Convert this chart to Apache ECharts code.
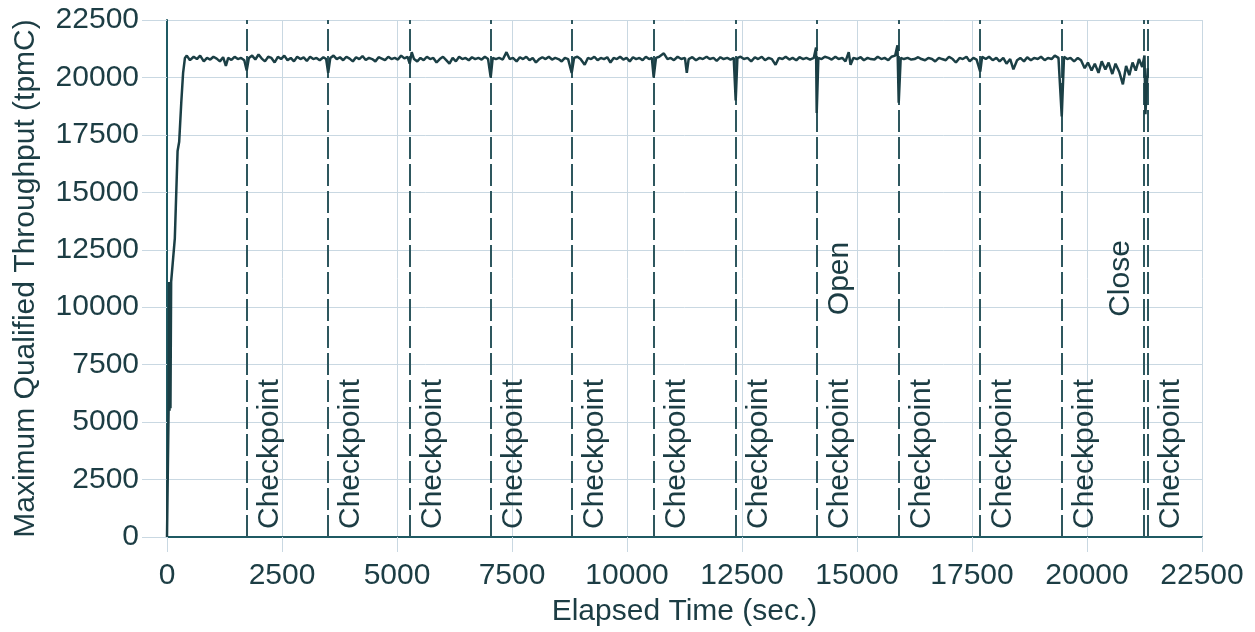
<!DOCTYPE html>
<html>
<head>
<meta charset="utf-8">
<script src="https://cdn.jsdelivr.net/npm/echarts@6/dist/echarts.min.js"></script>
<style>
html,body{margin:0;padding:0;background:#fff;}
#chart{width:1255px;height:632px;}
</style>
</head>
<body>
<div id="chart"></div>
<script>
// Elapsed time (sec) and throughput (tpmC)
const throughput = [
  [0,0],[35,5600],[45,11100],[55,5500],[65,11000],[75,5600],[90,11100],[124,11100],[170,13000],[230,16800],[265,17200],[310,18900],[350,20200],[390,20850],[430,20950],
  [500,20750],[580,20900],[650,20800],[720,20950],[800,20700],[870,20850],[940,20780],[1010,20900],[1080,20820],[1150,20700],[1220,20880],[1280,20500],[1330,20850],[1400,20760],[1470,20900],[1540,20800],[1610,20850],[1680,20750],[1733,20300],[1780,20850],
  [1850,20950],[1920,20780],[1990,21000],[2060,20820],[2130,20700],[2200,20900],[2270,20850],[2340,20650],[2410,20900],[2480,20800],[2550,20950],[2620,20750],[2690,20850],[2760,20700],[2830,20900],[2900,20800],[2970,20870],[3040,20720],[3110,20900],[3180,20800],[3250,20850],[3320,20750],[3400,20880],[3460,20800],[3504,20200],[3550,20850],
  [3620,20950],[3690,20800],[3760,20880],[3830,20750],[3900,20900],[3970,20820],[4040,20700],[4110,20880],[4180,20800],[4250,20930],[4320,20760],[4390,20850],[4460,20800],[4530,20700],[4600,20880],[4670,20820],[4740,20750],[4810,20900],[4880,20800],[4950,20850],[5020,20780],[5090,20950],[5160,20830],[5230,20900],[5276,20600],[5320,21100],[5370,20800],
  [5440,20700],[5510,20850],[5580,20750],[5650,20900],[5720,20800],[5790,20850],[5860,20650],[5930,20800],[6000,20900],[6070,20750],[6140,20600],[6210,20850],[6280,20700],[6350,20900],[6420,20800],[6490,20850],[6560,20750],[6630,20880],[6700,20800],[6770,20850],[6840,20780],[6910,20900],[6980,20800],[7037,20000],[7080,20850],
  [7150,20800],[7220,20850],[7300,20780],[7380,21100],[7450,20800],[7520,20850],[7600,20700],[7670,20880],[7740,20800],[7810,20900],[7880,20750],[7950,20850],[8020,20650],[8090,20800],[8160,20880],[8230,20800],[8300,20900],[8370,20780],[8440,20850],[8510,20800],[8580,20700],[8650,20850],[8720,20800],[8798,20200],[8850,20850],
  [8920,20900],[8990,20800],[9080,20550],[9150,20850],[9220,20800],[9290,20900],[9360,20750],[9430,20850],[9500,20800],[9570,20880],[9640,20650],[9710,20850],[9780,20800],[9850,20900],[9920,20780],[9990,20850],[10060,20700],[10130,20880],[10200,20800],[10270,20850],[10340,20750],[10410,20900],[10480,20800],[10540,20850],[10580,20000],[10630,20850],
  [10700,20900],[10800,21050],[10880,20800],[10950,20850],[11020,20750],[11100,20900],[11180,20800],[11260,20850],[11300,20200],[11340,20800],[11420,20880],[11500,20750],[11580,20850],[11650,20800],[11730,20900],[11800,20800],[11880,20850],[11950,20720],[12030,20880],[12100,20800],[12180,20850],[12250,20780],[12320,20850],[12363,19000],[12400,20850],
  [12470,20900],[12540,20800],[12620,20850],[12700,20700],[12780,20880],[12850,20800],[12930,20900],[13000,20750],[13080,20850],[13150,20800],[13230,20550],[13300,20850],[13380,20800],[13450,20900],[13530,20780],[13600,20850],[13680,20750],[13750,20880],[13830,20800],[13900,20850],[13980,20780],[14060,20850],[14110,21300],[14124,18450],[14160,20850],
  [14230,20800],[14300,20900],[14380,20850],[14450,20780],[14530,20900],[14600,20800],[14680,20850],[14750,20700],[14820,21100],[14860,20550],[14920,20850],[15000,20800],[15080,20880],[15150,20750],[15230,20850],[15300,20800],[15380,20780],[15450,20900],[15530,20800],[15600,20850],[15680,20750],[15750,20900],[15830,20950],[15880,21400],[15907,18900],[15950,20850],
  [16020,20800],[16100,20850],[16180,20780],[16250,20800],[16330,20880],[16400,20800],[16480,20750],[16550,20850],[16630,20800],[16700,20700],[16780,20850],[16850,20800],[16930,20750],[17000,20900],[17080,20800],[17150,20650],[17230,20850],[17300,20800],[17380,20900],[17450,20700],[17530,20850],[17600,20780],[17679,20250],[17720,20900],
  [17800,20800],[17870,20900],[17950,20750],[18030,20850],[18100,20700],[18180,20850],[18250,20600],[18330,20800],[18400,20350],[18480,20750],[18550,20850],[18630,20700],[18700,20880],[18780,20750],[18850,20850],[18930,20800],[19000,20900],[19080,20750],[19150,20850],[19230,20800],[19300,20950],[19380,20850],[19451,18300],[19500,20900],
  [19570,20800],[19640,20850],[19720,20700],[19800,20850],[19870,20750],[19950,20400],[20020,20650],[20100,20300],[20170,20600],[20250,20200],[20320,20700],[20400,20350],[20470,20650],[20550,20150],[20620,20600],[20700,20250],[20780,19700],[20850,20500],[20920,20100],[20990,20650],[21060,20300],[21130,20800],[21200,20450],[21250,20950],[21270,18400],[21321,20400]
];

const checkpointTimes = [1733, 3504, 5276, 7037, 8798, 10580, 12363, 14124, 15907, 17679, 19451, 21321];
const openTime = 14124;
const closeTime = 21234;

const tickValues = { min: 0, max: 22500, interval: 2500 };

const xTitle = 'Elapsed Time (sec.)';
const yTitle = 'Maximum Qualified Throughput (tpmC)';

const textColor = '#1c3d44';
const font = 'Liberation Sans, Arial, Helvetica, sans-serif';
const dashColor = '#2e575e';

const markData = checkpointTimes.map(t => ({
  xAxis: t,
  label: { show: true, formatter: 'Checkpoint', position: 'insideStartBottom', distance: 8 }
}));
markData.push({
  xAxis: openTime,
  label: { show: true, formatter: 'Open', position: 'insideMiddleBottom', distance: 8 }
});
markData.push({
  xAxis: closeTime,
  label: { show: true, formatter: 'Close', position: 'insideMiddleTop', distance: 8 }
});

const plain = v => String(v);

const chart = echarts.init(document.getElementById('chart'), null, { renderer: 'canvas' });
chart.setOption({
  animation: false,
  backgroundColor: '#ffffff',
  grid: { left: 167, right: 53, top: 20, bottom: 94, containLabel: false },
  xAxis: {
    type: 'value',
    min: tickValues.min, max: tickValues.max, interval: tickValues.interval,
    name: xTitle, nameLocation: 'middle', nameGap: 60,
    nameTextStyle: { fontSize: 30, color: textColor, fontFamily: font },
    axisLine: { show: true, onZero: false, lineStyle: { color: '#1f5a63', width: 2 } },
    axisTick: { show: true, length: 15, lineStyle: { color: '#c9d8e2', width: 1 } },
    axisLabel: { fontSize: 30, color: textColor, fontFamily: font, margin: 24, formatter: plain },
    splitLine: { show: true, lineStyle: { color: '#c9d8e2', width: 1 } }
  },
  yAxis: {
    type: 'value',
    min: tickValues.min, max: tickValues.max, interval: tickValues.interval,
    name: yTitle, nameLocation: 'middle', nameGap: 126, nameRotate: 90,
    nameTextStyle: { fontSize: 30, color: textColor, fontFamily: font },
    axisLine: { show: true, onZero: false, lineStyle: { color: '#1f5a63', width: 2 } },
    axisTick: { show: true, length: 25, lineStyle: { color: '#c9d8e2', width: 1 } },
    axisLabel: { fontSize: 30, color: textColor, fontFamily: font, margin: 28, formatter: plain },
    splitLine: { show: true, lineStyle: { color: '#c9d8e2', width: 1 } }
  },
  series: [{
    type: 'line',
    data: throughput,
    showSymbol: false,
    symbol: 'none',
    lineStyle: { color: '#1b3f45', width: 2.5 },
    z: 5,
    markLine: {
      silent: true,
      symbol: ['none', 'none'],
      animation: false,
      lineStyle: { color: dashColor, width: 2, type: [22, 5] },
      label: { fontSize: 30, color: textColor, fontFamily: font },
      emphasis: { disabled: true },
      data: markData
    }
  }]
});
</script>
</body>
</html>
